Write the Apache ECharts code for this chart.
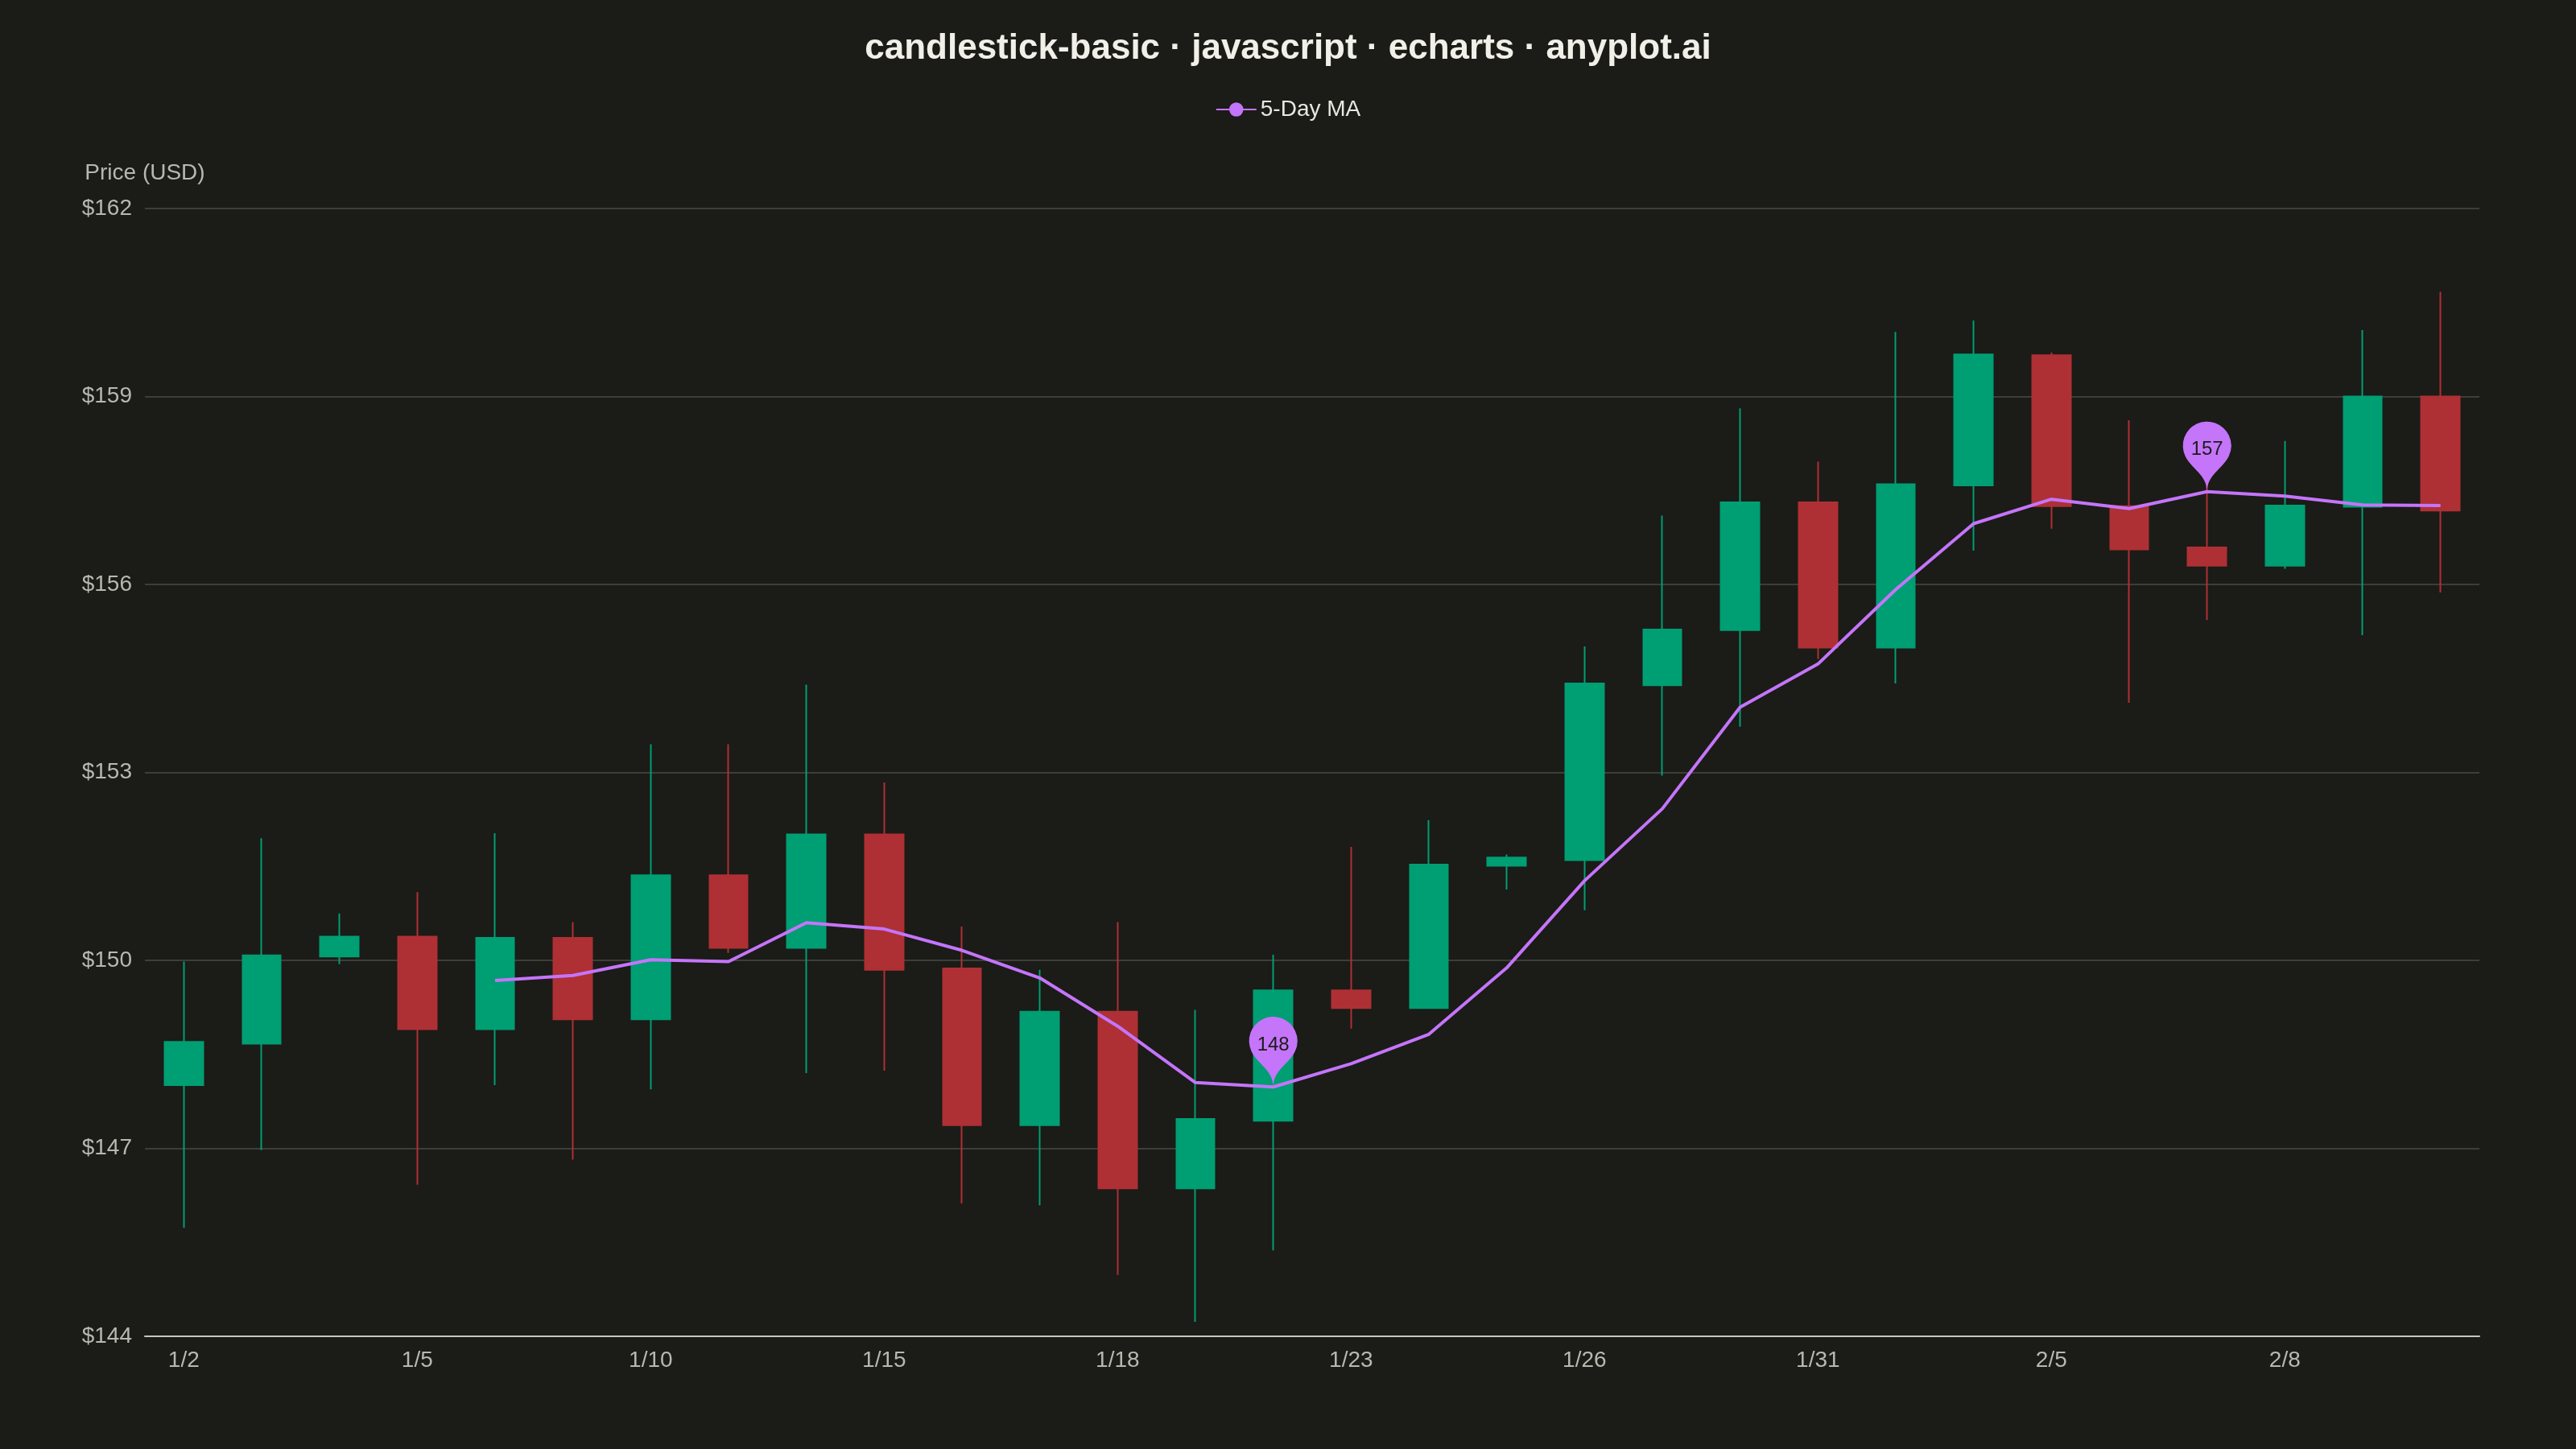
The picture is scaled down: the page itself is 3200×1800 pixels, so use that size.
<!DOCTYPE html>
<html>
<head>
<meta charset="utf-8">
<title>candlestick-basic</title>
<script src="https://cdn.jsdelivr.net/npm/echarts@6/dist/echarts.min.js"></script>
<style>
  html, body { margin: 0; padding: 0; background: #1B1B17; }
  #chart { width: 3200px; height: 1800px; }
</style>
</head>
<body>
<div id="chart"></div>
<script>
// trading days, Jan 2 - Feb 12
const dates = ['1/2', '1/3', '1/4', '1/5', '1/8', '1/9', '1/10', '1/11', '1/12', '1/15',
  '1/16', '1/17', '1/18', '1/19', '1/22', '1/23', '1/24', '1/25', '1/26', '1/29',
  '1/30', '1/31', '2/1', '2/2', '2/5', '2/6', '2/7', '2/8', '2/9', '2/12'];

const openPrices = [148.01, 148.67, 150.06, 150.38, 148.90, 150.36, 149.06, 151.36, 150.20, 152.01,
  149.87, 147.37, 149.18, 146.36, 147.44, 149.52, 149.24, 151.51, 151.60, 154.39,
  155.27, 157.31, 154.99, 157.58, 159.66, 157.25, 156.59, 156.30, 157.24, 159.00];
const closePrices = [148.70, 150.08, 150.38, 148.90, 150.36, 149.06, 151.36, 150.20, 152.01, 149.85,
  147.37, 149.18, 146.36, 147.47, 149.52, 149.24, 151.53, 151.64, 154.42, 155.28,
  157.31, 154.99, 157.60, 159.67, 157.25, 156.56, 156.30, 157.26, 159.00, 157.18];
const lowPrices = [145.73, 146.97, 149.94, 146.42, 148.01, 146.82, 147.94, 150.12, 148.20, 148.24,
  146.12, 146.09, 144.98, 144.23, 145.37, 148.91, 149.23, 151.13, 150.80, 152.95,
  153.73, 154.81, 154.42, 156.54, 156.89, 154.11, 155.43, 156.25, 155.19, 155.87];
const highPrices = [149.98, 151.95, 150.75, 151.09, 152.03, 150.61, 153.45, 153.45, 154.40, 152.84,
  150.54, 149.85, 150.61, 149.21, 150.09, 151.81, 152.24, 151.69, 155.01, 157.10,
  158.81, 157.96, 160.03, 160.21, 159.70, 158.62, 157.70, 158.29, 160.06, 160.67];

// 5-day moving average
const ma5 = ['-', '-', '-', '-', 149.68, 149.76, 150.01, 149.98, 150.60, 150.50,
  150.16, 149.72, 148.95, 148.05, 147.98, 148.35, 148.82, 149.88, 151.27, 152.42,
  154.04, 154.73, 155.92, 156.97, 157.36, 157.21, 157.48, 157.41, 157.27, 157.26];

const upColor = '#009E73';
const downColor = '#AE3034';
const maColor = '#C475FA';
const textGrey = '#B8B8B0';

// echarts wants [open, close, low, high]
const ohlc = dates.map((d, i) => [openPrices[i], closePrices[i], lowPrices[i], highPrices[i]]);

const myChart = echarts.init(document.getElementById('chart'));

const option = {
  backgroundColor: '#1B1B17',
  animation: false,
  textStyle: { fontFamily: 'Liberation Sans, Arial, sans-serif' },
  title: {
    text: 'candlestick-basic · javascript · echarts · anyplot.ai',
    left: 'center',
    top: 34,
    textStyle: { color: '#F0EFE8', fontSize: 44, fontWeight: 'bold' }
  },
  legend: {
    data: ['5-Day MA'],
    top: 117,
    left: 'center',
    itemWidth: 50,
    itemHeight: 22,
    itemGap: 20,
    textStyle: { color: '#E8E8E0', fontSize: 28 }
  },
  grid: { left: 180, right: 120, top: 259, bottom: 140 },
  xAxis: {
    type: 'category',
    data: dates,
    boundaryGap: true,
    axisLine: { lineStyle: { color: '#C8C8C0', width: 2 } },
    axisTick: { show: false },
    axisLabel: { color: textGrey, fontSize: 28, interval: 2, margin: 16 },
    splitLine: { show: false }
  },
  yAxis: {
    type: 'value',
    min: 144,
    max: 162,
    interval: 3,
    name: 'Price (USD)',
    nameGap: 30,
    nameTextStyle: { color: textGrey, fontSize: 28 },
    axisLine: { show: false },
    axisTick: { show: false },
    axisLabel: { color: textGrey, fontSize: 28, margin: 16, formatter: v => '$' + v },
    splitLine: { lineStyle: { color: '#3E3E39', width: 2 } }
  },
  series: [
    {
      name: 'Price',
      type: 'candlestick',
      data: ohlc,
      barWidth: '50%',
      itemStyle: {
        color: upColor,
        color0: downColor,
        borderColor: upColor,
        borderColor0: downColor,
        borderWidth: 2
      }
    },
    {
      name: '5-Day MA',
      type: 'line',
      data: ma5,
      smooth: false,
      symbol: 'circle',
      showSymbol: false,
      lineStyle: { color: maColor, width: 4 },
      itemStyle: { color: maColor },
      markPoint: {
        symbol: 'pin',
        symbolSize: 100,
        data: [
          { type: 'max', name: 'High' },
          { type: 'min', name: 'Low' }
        ],
        itemStyle: { color: maColor },
        label: {
          color: '#1B1B17',
          fontSize: 24,
          formatter: p => Math.round(p.value)
        }
      }
    }
  ]
};

myChart.setOption(option);
</script>
</body>
</html>
